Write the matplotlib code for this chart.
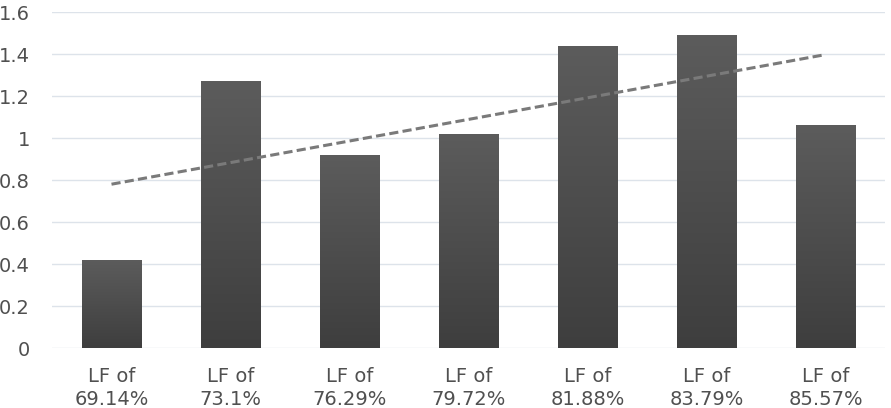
import numpy as np
import matplotlib
matplotlib.use("Agg")
import matplotlib.pyplot as plt
from matplotlib.colors import LinearSegmentedColormap

categories = ["LF of\n69.14%", "LF of\n73.1%", "LF of\n76.29%", "LF of\n79.72%",
              "LF of\n81.88%", "LF of\n83.79%", "LF of\n85.57%"]
values = [0.42, 1.27, 0.92, 1.02, 1.44, 1.49, 1.06]
yticks = [0, 0.2, 0.4, 0.6, 0.8, 1, 1.2, 1.4, 1.6]
ytick_labels = ["0", "0.2", "0.4", "0.6", "0.8", "1", "1.2", "1.4", "1.6"]

plt.rcParams['font.family'] = ['DejaVu Sans']

fig = plt.figure(figsize=(8.91, 4.08), dpi=100)
ax = fig.add_axes([52/891, 60/408, 833/891, 336/408])

x = np.arange(len(values))
bars = ax.bar(x, values, width=0.5, color='#4f4f4f', zorder=2)

cmap = LinearSegmentedColormap.from_list('g', ['#3e3e3e', '#5c5c5c'])
grad = np.linspace(0, 1, 256).reshape(-1, 1)
for b in bars:
    bx, by = b.get_x(), b.get_y()
    w, h = b.get_width(), b.get_height()
    im = ax.imshow(grad, cmap=cmap, origin='lower', aspect='auto',
                   extent=[bx, bx + w, by, by + h], zorder=3)
    im.set_clip_path(b)
    b.set_facecolor('none')
    b.set_edgecolor('#6a6a6a')
    b.set_linewidth(0.6)

coef = np.polyfit(x + 1, values, 1)
trend = np.polyval(coef, x + 1)
ax.plot(x, trend, linestyle=(0, (3.0, 1.4)), color='#7a7a7a', linewidth=2.2, zorder=4)

ax.set_xlim(-0.5, len(values) - 0.5)
ax.set_ylim(0, 1.6)
ax.set_yticks(yticks)
ax.set_yticklabels(ytick_labels)
ax.set_xticks(x)
ax.set_xticklabels(categories, linespacing=1.25)
ax.yaxis.grid(True, color='#dde3ea', linewidth=1.0, zorder=0)
ax.set_axisbelow(True)
for s in ax.spines.values():
    s.set_visible(False)
ax.tick_params(axis='both', length=0, labelsize=14, labelcolor='#505050')
ax.tick_params(axis='y', pad=16)
ax.tick_params(axis='x', pad=14)
for lbl in ax.get_yticklabels():
    lbl.set_horizontalalignment('right')

fig.savefig('out.png', dpi=100)
